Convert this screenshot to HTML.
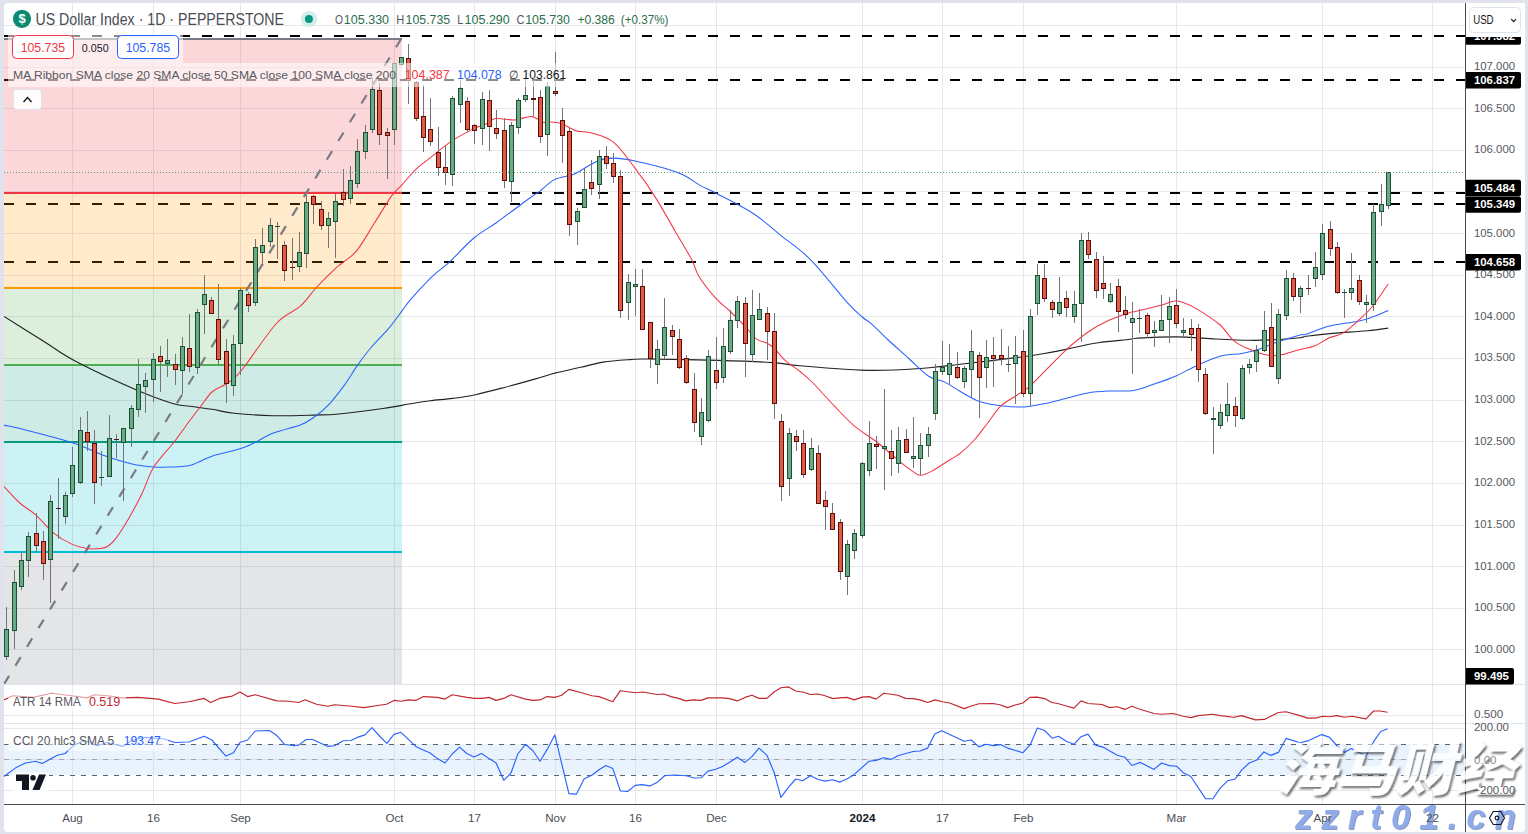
<!DOCTYPE html>
<html><head><meta charset="utf-8"><title>US Dollar Index</title>
<style>html,body{margin:0;padding:0}svg text{font-family:"Liberation Sans",sans-serif}svg text.wm{font-family:"Liberation Sans","Noto Sans CJK SC","WenQuanYi Zen Hei",sans-serif;font-weight:900}body{width:1528px;height:834px;overflow:hidden;background:#e0e3eb;position:relative}</style>
</head><body>
<svg width="1528" height="834" viewBox="0 0 1528 834" style="position:absolute;left:0;top:0">
<defs>
<clipPath id="cm"><rect x="4" y="3" width="1461" height="681"/></clipPath>
<clipPath id="ca"><rect x="4" y="685" width="1461" height="38"/></clipPath>
<clipPath id="cc"><rect x="4" y="724" width="1461" height="80"/></clipPath>
<clipPath id="cr"><rect x="1465" y="37" width="70" height="800"/></clipPath>
</defs>
<rect x="4" y="3" width="1521" height="829" rx="4" fill="#fff"/>
<g shape-rendering="crispEdges" fill="#e7e7e9">
<rect x="72" y="3" width="1" height="801"/>
<rect x="153" y="3" width="1" height="801"/>
<rect x="240" y="3" width="1" height="801"/>
<rect x="394" y="3" width="1" height="801"/>
<rect x="474" y="3" width="1" height="801"/>
<rect x="555" y="3" width="1" height="801"/>
<rect x="635" y="3" width="1" height="801"/>
<rect x="716" y="3" width="1" height="801"/>
<rect x="862" y="3" width="1" height="801"/>
<rect x="942" y="3" width="1" height="801"/>
<rect x="1023" y="3" width="1" height="801"/>
<rect x="1176" y="3" width="1" height="801"/>
<rect x="1322" y="3" width="1" height="801"/>
<rect x="1432" y="3" width="1" height="801"/>
<rect x="4" y="25" width="1461" height="1"/>
<rect x="4" y="67" width="1461" height="1"/>
<rect x="4" y="108" width="1461" height="1"/>
<rect x="4" y="150" width="1461" height="1"/>
<rect x="4" y="191" width="1461" height="1"/>
<rect x="4" y="233" width="1461" height="1"/>
<rect x="4" y="275" width="1461" height="1"/>
<rect x="4" y="316" width="1461" height="1"/>
<rect x="4" y="358" width="1461" height="1"/>
<rect x="4" y="400" width="1461" height="1"/>
<rect x="4" y="441" width="1461" height="1"/>
<rect x="4" y="483" width="1461" height="1"/>
<rect x="4" y="525" width="1461" height="1"/>
<rect x="4" y="566" width="1461" height="1"/>
<rect x="4" y="608" width="1461" height="1"/>
<rect x="4" y="649" width="1461" height="1"/>
<rect x="4" y="715" width="1461" height="1"/>
<rect x="4" y="728" width="1461" height="1"/>
<rect x="4" y="790" width="1461" height="1"/>
</g>
<line x1="3.9" y1="36" x2="1465" y2="36" stroke="#000" stroke-width="2" stroke-dasharray="10 12" shape-rendering="crispEdges"/>
<line x1="3.9" y1="80" x2="1465" y2="80" stroke="#000" stroke-width="2" stroke-dasharray="10 12" shape-rendering="crispEdges"/>
<line x1="3.9" y1="193" x2="1465" y2="193" stroke="#000" stroke-width="2" stroke-dasharray="10 12" shape-rendering="crispEdges"/>
<line x1="3.9" y1="204" x2="1465" y2="204" stroke="#000" stroke-width="2" stroke-dasharray="10 12" shape-rendering="crispEdges"/>
<line x1="3.9" y1="262" x2="1465" y2="262" stroke="#000" stroke-width="2" stroke-dasharray="10 12" shape-rendering="crispEdges"/>
<g shape-rendering="crispEdges">
<rect x="4" y="39" width="398" height="153" fill="rgba(242,54,69,0.2)"/>
<rect x="4" y="192" width="398" height="96" fill="rgba(255,152,0,0.2)"/>
<rect x="4" y="288" width="398" height="77" fill="rgba(76,175,80,0.2)"/>
<rect x="4" y="365" width="398" height="77" fill="rgba(8,153,129,0.2)"/>
<rect x="4" y="442" width="398" height="110" fill="rgba(0,188,212,0.2)"/>
<rect x="4" y="552" width="398" height="132" fill="rgba(120,123,134,0.2)"/>
</g>
<g shape-rendering="crispEdges">
<rect x="4" y="38" width="398" height="2" fill="#787b86"/>
<rect x="4" y="192" width="398" height="2" fill="#f23645"/>
<rect x="4" y="287" width="398" height="2" fill="#ff9800"/>
<rect x="4" y="364" width="398" height="2" fill="#4caf50"/>
<rect x="4" y="441" width="398" height="2" fill="#089981"/>
<rect x="4" y="551" width="398" height="2" fill="#00bcd4"/>
</g>
<line x1="3.9" y1="684.3" x2="401.4" y2="38.5" stroke="#787b86" stroke-width="2.2" stroke-dasharray="10 12" clip-path="url(#cm)"/>
<path d="M4.0 316.4 C10.5 320.5 31.1 333.4 43.2 341.0 C55.3 348.6 61.0 353.7 76.5 361.8 C92.0 369.9 120.0 382.9 136.0 389.8 C152.0 396.8 163.7 400.8 172.7 403.5 C181.7 406.2 183.4 405.3 190.0 406.3 C196.6 407.3 204.7 408.2 212.0 409.3 C219.3 410.4 224.0 412.1 234.1 413.2 C244.2 414.3 259.4 415.4 272.7 415.7 C286.0 416.0 303.0 415.4 314.0 415.1 C325.0 414.8 327.3 415.1 338.8 414.0 C350.3 412.9 371.1 410.2 383.0 408.5 C394.9 406.8 402.6 405.1 410.5 403.8 C418.4 402.5 423.1 401.7 430.1 400.8 C437.1 399.9 445.2 399.4 452.7 398.4 C460.2 397.4 466.5 396.6 475.3 394.7 C484.1 392.8 495.4 389.8 505.4 387.2 C515.4 384.6 527.1 381.3 535.5 378.9 C543.9 376.5 548.3 374.8 555.8 372.9 C563.3 371.0 572.7 369.1 580.6 367.3 C588.5 365.5 595.0 363.4 603.2 362.1 C611.4 360.8 622.9 360.1 630.0 359.6 C637.1 359.1 631.3 358.9 646.0 359.0 C660.7 359.1 697.0 359.8 718.0 360.4 C739.0 361.0 758.3 361.7 772.0 362.6 C785.7 363.5 785.2 364.6 800.0 365.8 C814.8 367.1 844.0 369.4 860.6 370.1 C877.2 370.8 887.6 370.2 899.5 369.8 C911.4 369.4 921.8 368.4 931.9 367.5 C942.0 366.6 945.5 366.0 960.0 364.3 C974.5 362.6 1004.9 359.0 1019.2 357.2 C1033.5 355.4 1036.8 354.8 1045.6 353.3 C1054.4 351.8 1063.2 349.8 1072.0 348.0 C1080.8 346.2 1088.7 344.1 1098.4 342.7 C1108.1 341.2 1123.7 340.1 1130.0 339.3 C1136.3 338.6 1130.0 338.6 1136.4 338.2 C1144.1 337.8 1162.8 336.8 1176.0 336.9 C1189.2 337.0 1203.3 338.4 1215.6 339.0 C1227.9 339.6 1240.2 340.2 1249.9 340.3 C1259.6 340.4 1265.2 340.2 1273.6 339.8 C1281.9 339.4 1294.5 338.3 1300.0 337.7 C1305.5 337.1 1300.9 337.0 1306.4 336.3 C1311.9 335.6 1322.7 334.3 1332.8 333.4 C1342.9 332.5 1357.9 331.7 1367.1 330.8 C1376.3 329.9 1384.7 328.6 1388.2 328.1" fill="none" stroke="#222" stroke-width="1.15" stroke-linejoin="round" clip-path="url(#cm)" />
<path d="M4.0 425.1 C7.7 426.0 15.0 427.2 26.4 430.2 C37.8 433.1 59.3 438.5 72.5 442.8 C85.7 447.1 95.6 452.5 105.5 456.0 C115.4 459.5 124.0 462.2 132.0 464.0 C140.1 465.8 147.2 466.5 153.8 467.0 C160.4 467.5 165.7 467.2 171.5 467.0 C177.3 466.8 183.8 466.7 188.6 465.8 C193.3 464.9 196.1 463.1 200.0 461.5 C203.9 459.9 204.5 458.6 212.0 456.2 C219.5 453.8 235.0 450.9 245.1 447.1 C255.2 443.3 263.5 437.0 272.7 433.3 C281.9 429.6 293.4 427.7 300.3 425.0 C307.2 422.3 309.4 420.5 314.0 417.3 C318.6 414.1 322.7 411.1 327.8 405.7 C332.9 400.3 339.3 392.0 344.4 385.1 C349.4 378.2 353.5 370.8 358.1 364.4 C362.7 358.0 366.8 352.5 371.9 346.5 C377.0 340.5 383.4 334.6 388.5 328.6 C393.6 322.6 398.5 315.4 402.2 310.6 C405.9 305.8 405.4 305.3 410.5 299.6 C415.6 293.9 426.2 282.4 432.6 276.2 C439.0 270.0 442.2 268.8 449.1 262.4 C456.0 256.0 465.9 244.7 473.9 238.0 C481.9 231.3 487.4 229.1 497.0 222.2 C506.6 215.3 524.3 202.0 531.5 196.8 C538.7 191.6 536.2 194.1 540.0 191.2 C543.8 188.3 548.6 182.5 554.4 179.6 C560.1 176.7 567.3 177.0 574.5 173.9 C581.7 170.8 591.1 163.5 597.6 160.9 C604.1 158.3 607.2 158.1 613.4 158.1 C619.6 158.1 626.6 159.2 635.0 160.9 C643.4 162.6 655.6 165.7 663.7 168.1 C671.9 170.5 677.9 172.4 683.9 175.3 C689.9 178.2 694.3 182.2 700.0 185.4 C705.7 188.6 709.0 189.4 718.0 194.2 C727.0 199.0 743.7 207.2 754.0 214.0 C764.3 220.8 770.6 227.2 780.0 234.8 C789.4 242.4 799.0 248.1 810.2 259.4 C821.4 270.6 838.4 292.7 847.1 302.3 C855.8 311.9 858.4 313.5 862.3 317.0 C866.2 320.5 866.3 319.4 870.6 323.2 C874.9 327.0 881.8 334.0 888.2 340.0 C894.7 346.0 902.6 352.9 909.3 359.0 C916.0 365.1 922.7 372.4 928.6 376.3 C934.5 380.2 939.6 379.6 944.8 382.1 C950.0 384.6 954.2 387.9 960.0 391.2 C965.8 394.4 972.4 399.1 979.6 401.6 C986.8 404.1 995.8 405.2 1003.3 406.1 C1010.8 407.0 1017.5 407.3 1024.5 406.9 C1031.5 406.4 1038.6 404.8 1045.6 403.4 C1052.6 401.9 1059.7 399.9 1066.7 398.2 C1073.7 396.4 1080.8 394.1 1087.8 392.9 C1094.8 391.7 1101.2 391.4 1108.9 391.0 C1116.6 390.6 1126.1 391.6 1133.8 390.4 C1141.5 389.2 1147.9 386.2 1154.9 383.8 C1161.9 381.4 1169.0 379.0 1176.0 375.9 C1183.0 372.8 1189.6 368.7 1197.1 365.4 C1204.6 362.1 1213.3 358.1 1220.8 356.1 C1228.3 354.1 1235.8 354.6 1242.0 353.5 C1248.2 352.4 1251.6 351.5 1257.8 349.5 C1264.0 347.5 1271.9 344.0 1278.9 341.6 C1285.9 339.2 1295.4 336.2 1300.0 335.0 C1304.6 333.8 1301.6 335.6 1306.4 334.2 C1311.2 332.8 1320.0 328.5 1328.8 326.3 C1337.6 324.1 1351.9 322.6 1359.2 321.0 C1366.5 319.4 1367.6 318.8 1372.4 317.0 C1377.2 315.2 1385.6 311.5 1388.2 310.4" fill="none" stroke="#2962ff" stroke-width="1.05" stroke-linejoin="round" clip-path="url(#cm)" />
<path d="M4.0 486.4 C6.6 489.2 14.5 498.2 19.8 503.0 C25.1 507.8 29.9 509.8 35.6 514.9 C41.3 519.9 48.2 528.5 54.1 533.3 C60.0 538.1 65.7 541.3 71.2 543.9 C76.7 546.5 82.2 547.8 87.1 548.6 C91.9 549.4 96.8 549.0 100.3 548.6 C103.8 548.2 105.6 547.8 108.2 546.0 C110.8 544.2 112.6 542.9 116.1 538.1 C119.6 533.4 124.9 525.1 129.3 517.5 C133.7 509.9 138.4 500.8 142.5 492.4 C146.6 484.0 148.5 475.4 153.8 467.0 C159.1 458.6 168.1 449.8 174.1 442.0 C180.1 434.2 185.7 426.1 190.0 420.3 C194.3 414.5 196.3 411.9 200.0 407.2 C203.7 402.5 207.7 395.8 212.0 392.0 C216.3 388.2 221.9 386.7 225.8 384.2 C229.7 381.7 232.3 379.9 235.5 376.8 C238.7 373.7 238.2 374.8 245.1 365.8 C252.0 356.8 267.6 332.9 276.8 323.0 C286.0 313.1 293.6 312.2 300.3 306.2 C307.0 300.2 310.8 293.4 316.8 287.0 C322.8 280.6 331.7 272.0 336.1 267.9 C340.5 263.8 339.5 265.3 343.0 262.4 C346.5 259.5 351.8 256.9 357.0 250.4 C362.2 243.9 368.5 232.4 374.3 223.3 C380.1 214.2 387.0 202.3 391.6 195.9 C396.2 189.5 397.9 189.3 402.0 184.8 C406.1 180.3 411.6 173.5 416.4 168.9 C421.2 164.3 424.9 162.0 430.7 157.4 C436.4 152.8 443.7 146.4 450.9 141.6 C458.1 136.8 468.1 131.5 473.9 128.6 C479.6 125.7 481.8 126.0 485.4 124.3 C489.0 122.6 490.7 119.3 495.5 118.6 C500.3 117.9 508.2 120.3 514.2 120.0 C520.2 119.7 526.7 116.1 531.5 116.5 C536.3 116.9 539.7 121.4 543.0 122.3 C546.3 123.2 548.4 121.9 551.5 122.1 C554.6 122.3 557.5 122.1 561.6 123.5 C565.7 124.9 571.0 129.1 576.0 130.7 C581.0 132.3 585.6 131.1 591.8 133.0 C598.0 134.9 606.2 136.3 613.4 142.2 C620.6 148.0 628.0 159.0 635.0 168.1 C642.0 177.2 648.4 186.3 655.1 196.9 C661.8 207.5 669.2 220.9 675.3 231.4 C681.4 241.9 687.9 252.4 691.9 260.0 C695.9 267.6 695.1 270.4 699.1 276.8 C703.1 283.2 710.7 292.6 715.9 298.4 C721.1 304.2 725.5 306.9 730.3 311.5 C735.1 316.1 740.2 321.3 744.6 325.9 C749.0 330.5 753.0 336.3 756.6 339.1 C760.2 341.9 763.4 341.3 766.2 342.7 C769.0 344.1 770.2 344.5 773.4 347.5 C776.6 350.5 781.0 356.7 785.4 360.7 C789.8 364.7 795.6 367.9 800.0 371.5 C804.4 375.1 806.2 376.2 812.0 382.0 C817.8 387.8 827.7 399.1 834.7 406.4 C841.7 413.7 847.2 419.9 854.2 425.8 C861.2 431.7 869.2 436.1 876.8 442.0 C884.3 447.9 893.6 456.5 899.5 461.4 C905.4 466.2 908.9 468.8 912.4 471.1 C915.9 473.4 917.2 475.3 920.5 475.3 C923.8 475.3 927.9 473.2 931.9 471.1 C935.9 469.1 940.1 466.0 944.8 463.0 C949.5 460.0 955.1 457.1 960.0 453.3 C964.9 449.5 969.7 445.0 974.3 440.0 C978.9 435.0 983.1 428.8 987.5 423.2 C991.9 417.6 995.9 410.7 1000.7 406.1 C1005.5 401.5 1011.7 398.8 1016.5 395.5 C1021.3 392.2 1024.9 390.5 1029.7 386.3 C1034.5 382.1 1039.4 376.6 1045.6 370.4 C1051.8 364.2 1059.7 355.7 1066.7 349.3 C1073.7 342.9 1080.8 337.0 1087.8 332.2 C1094.8 327.4 1101.9 323.6 1108.9 320.3 C1115.9 317.0 1125.4 313.9 1130.0 312.4 C1134.6 310.9 1130.9 312.6 1136.4 311.3 C1141.9 310.0 1156.7 306.4 1162.8 304.7 C1168.9 303.0 1169.9 301.6 1173.3 301.2 C1176.7 300.8 1179.0 301.2 1183.0 302.5 C1187.0 303.8 1191.0 305.4 1197.1 309.1 C1203.2 312.8 1213.3 319.2 1219.5 324.5 C1225.7 329.8 1228.9 336.6 1234.0 340.8 C1239.1 345.0 1244.2 347.1 1249.9 349.5 C1255.6 351.9 1263.1 354.4 1268.4 355.3 C1273.7 356.2 1276.2 355.8 1281.5 354.8 C1286.8 353.8 1294.5 350.9 1300.0 349.5 C1305.5 348.1 1309.5 348.0 1314.3 346.1 C1319.1 344.2 1324.0 340.3 1328.8 338.1 C1333.6 335.9 1338.2 336.0 1343.3 332.9 C1348.4 329.8 1354.3 324.1 1359.2 319.7 C1364.1 315.3 1367.6 312.4 1372.4 306.5 C1377.2 300.6 1385.6 287.8 1388.2 284.0" fill="none" stroke="#f23645" stroke-width="1.05" stroke-linejoin="round" clip-path="url(#cm)" />
<g shape-rendering="crispEdges" clip-path="url(#cm)">
<rect x="6" y="607" width="1" height="53" fill="#737375"/>
<rect x="4" y="629" width="5" height="28" fill="#1d4f33"/>
<rect x="5" y="630" width="3" height="26" fill="#6aaa87"/>
<rect x="14" y="570" width="1" height="79" fill="#737375"/>
<rect x="12" y="582" width="5" height="49" fill="#1d4f33"/>
<rect x="13" y="583" width="3" height="47" fill="#6aaa87"/>
<rect x="21" y="552" width="1" height="38" fill="#737375"/>
<rect x="19" y="560" width="5" height="27" fill="#1d4f33"/>
<rect x="20" y="561" width="3" height="25" fill="#6aaa87"/>
<rect x="28" y="532" width="1" height="45" fill="#737375"/>
<rect x="26" y="536" width="5" height="25" fill="#1d4f33"/>
<rect x="27" y="537" width="3" height="23" fill="#6aaa87"/>
<rect x="36" y="513" width="1" height="39" fill="#737375"/>
<rect x="34" y="533" width="5" height="13" fill="#5a0e05"/>
<rect x="35" y="534" width="3" height="11" fill="#e05a48"/>
<rect x="43" y="531" width="1" height="49" fill="#737375"/>
<rect x="41" y="541" width="5" height="23" fill="#5a0e05"/>
<rect x="42" y="542" width="3" height="21" fill="#e05a48"/>
<rect x="50" y="495" width="1" height="108" fill="#737375"/>
<rect x="48" y="501" width="5" height="59" fill="#1d4f33"/>
<rect x="49" y="502" width="3" height="57" fill="#6aaa87"/>
<rect x="58" y="478" width="1" height="61" fill="#737375"/>
<rect x="56" y="508" width="5" height="1" fill="#5a0e05"/>
<rect x="65" y="492" width="1" height="32" fill="#737375"/>
<rect x="63" y="495" width="5" height="22" fill="#1d4f33"/>
<rect x="64" y="496" width="3" height="20" fill="#6aaa87"/>
<rect x="72" y="447" width="1" height="50" fill="#737375"/>
<rect x="70" y="465" width="5" height="29" fill="#1d4f33"/>
<rect x="71" y="466" width="3" height="27" fill="#6aaa87"/>
<rect x="80" y="417" width="1" height="67" fill="#737375"/>
<rect x="78" y="430" width="5" height="53" fill="#1d4f33"/>
<rect x="79" y="431" width="3" height="51" fill="#6aaa87"/>
<rect x="87" y="411" width="1" height="40" fill="#737375"/>
<rect x="85" y="432" width="5" height="10" fill="#5a0e05"/>
<rect x="86" y="433" width="3" height="8" fill="#e05a48"/>
<rect x="94" y="430" width="1" height="74" fill="#737375"/>
<rect x="92" y="443" width="5" height="40" fill="#5a0e05"/>
<rect x="93" y="444" width="3" height="38" fill="#e05a48"/>
<rect x="101" y="451" width="1" height="35" fill="#737375"/>
<rect x="99" y="477" width="5" height="1" fill="#1d4f33"/>
<rect x="109" y="415" width="1" height="62" fill="#737375"/>
<rect x="107" y="438" width="5" height="39" fill="#1d4f33"/>
<rect x="108" y="439" width="3" height="37" fill="#6aaa87"/>
<rect x="116" y="434" width="1" height="24" fill="#737375"/>
<rect x="114" y="439" width="5" height="1" fill="#5a0e05"/>
<rect x="123" y="428" width="1" height="73" fill="#737375"/>
<rect x="121" y="428" width="5" height="15" fill="#1d4f33"/>
<rect x="122" y="429" width="3" height="13" fill="#6aaa87"/>
<rect x="131" y="405" width="1" height="42" fill="#737375"/>
<rect x="129" y="408" width="5" height="21" fill="#1d4f33"/>
<rect x="130" y="409" width="3" height="19" fill="#6aaa87"/>
<rect x="138" y="359" width="1" height="58" fill="#737375"/>
<rect x="136" y="384" width="5" height="26" fill="#1d4f33"/>
<rect x="137" y="385" width="3" height="24" fill="#6aaa87"/>
<rect x="145" y="373" width="1" height="40" fill="#737375"/>
<rect x="143" y="380" width="5" height="7" fill="#1d4f33"/>
<rect x="144" y="381" width="3" height="5" fill="#6aaa87"/>
<rect x="153" y="353" width="1" height="49" fill="#737375"/>
<rect x="151" y="359" width="5" height="21" fill="#1d4f33"/>
<rect x="152" y="360" width="3" height="19" fill="#6aaa87"/>
<rect x="160" y="346" width="1" height="46" fill="#737375"/>
<rect x="158" y="356" width="5" height="6" fill="#5a0e05"/>
<rect x="159" y="357" width="3" height="4" fill="#e05a48"/>
<rect x="167" y="339" width="1" height="38" fill="#737375"/>
<rect x="165" y="360" width="5" height="4" fill="#1d4f33"/>
<rect x="166" y="361" width="3" height="2" fill="#6aaa87"/>
<rect x="175" y="354" width="1" height="31" fill="#737375"/>
<rect x="173" y="364" width="5" height="6" fill="#5a0e05"/>
<rect x="174" y="365" width="3" height="4" fill="#e05a48"/>
<rect x="182" y="337" width="1" height="57" fill="#737375"/>
<rect x="180" y="346" width="5" height="25" fill="#1d4f33"/>
<rect x="181" y="347" width="3" height="23" fill="#6aaa87"/>
<rect x="189" y="314" width="1" height="58" fill="#737375"/>
<rect x="187" y="348" width="5" height="19" fill="#5a0e05"/>
<rect x="188" y="349" width="3" height="17" fill="#e05a48"/>
<rect x="197" y="309" width="1" height="65" fill="#737375"/>
<rect x="195" y="312" width="5" height="56" fill="#1d4f33"/>
<rect x="196" y="313" width="3" height="54" fill="#6aaa87"/>
<rect x="204" y="275" width="1" height="59" fill="#737375"/>
<rect x="202" y="294" width="5" height="11" fill="#1d4f33"/>
<rect x="203" y="295" width="3" height="9" fill="#6aaa87"/>
<rect x="211" y="297" width="1" height="17" fill="#737375"/>
<rect x="209" y="300" width="5" height="14" fill="#5a0e05"/>
<rect x="210" y="301" width="3" height="12" fill="#e05a48"/>
<rect x="218" y="284" width="1" height="81" fill="#737375"/>
<rect x="216" y="319" width="5" height="41" fill="#5a0e05"/>
<rect x="217" y="320" width="3" height="39" fill="#e05a48"/>
<rect x="226" y="339" width="1" height="64" fill="#737375"/>
<rect x="224" y="351" width="5" height="33" fill="#5a0e05"/>
<rect x="225" y="352" width="3" height="31" fill="#e05a48"/>
<rect x="233" y="335" width="1" height="61" fill="#737375"/>
<rect x="231" y="344" width="5" height="42" fill="#1d4f33"/>
<rect x="232" y="345" width="3" height="40" fill="#6aaa87"/>
<rect x="240" y="288" width="1" height="87" fill="#737375"/>
<rect x="238" y="290" width="5" height="54" fill="#1d4f33"/>
<rect x="239" y="291" width="3" height="52" fill="#6aaa87"/>
<rect x="248" y="292" width="1" height="20" fill="#737375"/>
<rect x="246" y="294" width="5" height="12" fill="#5a0e05"/>
<rect x="247" y="295" width="3" height="10" fill="#e05a48"/>
<rect x="255" y="239" width="1" height="67" fill="#737375"/>
<rect x="253" y="247" width="5" height="56" fill="#1d4f33"/>
<rect x="254" y="248" width="3" height="54" fill="#6aaa87"/>
<rect x="262" y="228" width="1" height="35" fill="#737375"/>
<rect x="260" y="245" width="5" height="8" fill="#1d4f33"/>
<rect x="261" y="246" width="3" height="6" fill="#6aaa87"/>
<rect x="270" y="218" width="1" height="29" fill="#737375"/>
<rect x="268" y="225" width="5" height="17" fill="#1d4f33"/>
<rect x="269" y="226" width="3" height="15" fill="#6aaa87"/>
<rect x="277" y="222" width="1" height="37" fill="#737375"/>
<rect x="275" y="226" width="5" height="1" fill="#1d4f33"/>
<rect x="284" y="241" width="1" height="40" fill="#737375"/>
<rect x="282" y="245" width="5" height="26" fill="#5a0e05"/>
<rect x="283" y="246" width="3" height="24" fill="#e05a48"/>
<rect x="292" y="238" width="1" height="42" fill="#737375"/>
<rect x="290" y="267" width="5" height="1" fill="#5a0e05"/>
<rect x="299" y="232" width="1" height="40" fill="#737375"/>
<rect x="297" y="252" width="5" height="15" fill="#1d4f33"/>
<rect x="298" y="253" width="3" height="13" fill="#6aaa87"/>
<rect x="306" y="195" width="1" height="73" fill="#737375"/>
<rect x="304" y="202" width="5" height="52" fill="#1d4f33"/>
<rect x="305" y="203" width="3" height="50" fill="#6aaa87"/>
<rect x="313" y="195" width="1" height="29" fill="#737375"/>
<rect x="311" y="196" width="5" height="9" fill="#5a0e05"/>
<rect x="312" y="197" width="3" height="7" fill="#e05a48"/>
<rect x="321" y="201" width="1" height="29" fill="#737375"/>
<rect x="319" y="209" width="5" height="17" fill="#5a0e05"/>
<rect x="320" y="210" width="3" height="15" fill="#e05a48"/>
<rect x="328" y="212" width="1" height="36" fill="#737375"/>
<rect x="326" y="218" width="5" height="8" fill="#1d4f33"/>
<rect x="327" y="219" width="3" height="6" fill="#6aaa87"/>
<rect x="335" y="194" width="1" height="64" fill="#737375"/>
<rect x="333" y="201" width="5" height="21" fill="#1d4f33"/>
<rect x="334" y="202" width="3" height="19" fill="#6aaa87"/>
<rect x="343" y="169" width="1" height="37" fill="#737375"/>
<rect x="341" y="192" width="5" height="8" fill="#5a0e05"/>
<rect x="342" y="193" width="3" height="6" fill="#e05a48"/>
<rect x="350" y="166" width="1" height="38" fill="#737375"/>
<rect x="348" y="180" width="5" height="19" fill="#1d4f33"/>
<rect x="349" y="181" width="3" height="17" fill="#6aaa87"/>
<rect x="357" y="139" width="1" height="49" fill="#737375"/>
<rect x="355" y="151" width="5" height="33" fill="#1d4f33"/>
<rect x="356" y="152" width="3" height="31" fill="#6aaa87"/>
<rect x="365" y="125" width="1" height="34" fill="#737375"/>
<rect x="363" y="132" width="5" height="20" fill="#1d4f33"/>
<rect x="364" y="133" width="3" height="18" fill="#6aaa87"/>
<rect x="372" y="78" width="1" height="55" fill="#737375"/>
<rect x="370" y="89" width="5" height="41" fill="#1d4f33"/>
<rect x="371" y="90" width="3" height="39" fill="#6aaa87"/>
<rect x="379" y="83" width="1" height="62" fill="#737375"/>
<rect x="377" y="90" width="5" height="45" fill="#5a0e05"/>
<rect x="378" y="91" width="3" height="43" fill="#e05a48"/>
<rect x="387" y="128" width="1" height="51" fill="#737375"/>
<rect x="385" y="132" width="5" height="4" fill="#5a0e05"/>
<rect x="386" y="133" width="3" height="2" fill="#e05a48"/>
<rect x="394" y="63" width="1" height="82" fill="#737375"/>
<rect x="392" y="63" width="5" height="67" fill="#1d4f33"/>
<rect x="393" y="64" width="3" height="65" fill="#6aaa87"/>
<rect x="401" y="57" width="1" height="9" fill="#737375"/>
<rect x="399" y="57" width="5" height="8" fill="#1d4f33"/>
<rect x="400" y="58" width="3" height="6" fill="#6aaa87"/>
<rect x="408" y="44" width="1" height="60" fill="#737375"/>
<rect x="406" y="58" width="5" height="23" fill="#5a0e05"/>
<rect x="407" y="59" width="3" height="21" fill="#e05a48"/>
<rect x="416" y="81" width="1" height="40" fill="#737375"/>
<rect x="414" y="82" width="5" height="37" fill="#5a0e05"/>
<rect x="415" y="83" width="3" height="35" fill="#e05a48"/>
<rect x="423" y="85" width="1" height="67" fill="#737375"/>
<rect x="421" y="116" width="5" height="22" fill="#5a0e05"/>
<rect x="422" y="117" width="3" height="20" fill="#e05a48"/>
<rect x="430" y="98" width="1" height="48" fill="#737375"/>
<rect x="428" y="129" width="5" height="13" fill="#5a0e05"/>
<rect x="429" y="130" width="3" height="11" fill="#e05a48"/>
<rect x="438" y="127" width="1" height="49" fill="#737375"/>
<rect x="436" y="152" width="5" height="16" fill="#5a0e05"/>
<rect x="437" y="153" width="3" height="14" fill="#e05a48"/>
<rect x="445" y="146" width="1" height="39" fill="#737375"/>
<rect x="443" y="167" width="5" height="6" fill="#5a0e05"/>
<rect x="444" y="168" width="3" height="4" fill="#e05a48"/>
<rect x="452" y="96" width="1" height="90" fill="#737375"/>
<rect x="450" y="98" width="5" height="77" fill="#1d4f33"/>
<rect x="451" y="99" width="3" height="75" fill="#6aaa87"/>
<rect x="460" y="80" width="1" height="43" fill="#737375"/>
<rect x="458" y="88" width="5" height="17" fill="#1d4f33"/>
<rect x="459" y="89" width="3" height="15" fill="#6aaa87"/>
<rect x="467" y="97" width="1" height="35" fill="#737375"/>
<rect x="465" y="101" width="5" height="29" fill="#5a0e05"/>
<rect x="466" y="102" width="3" height="27" fill="#e05a48"/>
<rect x="474" y="124" width="1" height="20" fill="#737375"/>
<rect x="472" y="125" width="5" height="6" fill="#5a0e05"/>
<rect x="473" y="126" width="3" height="4" fill="#e05a48"/>
<rect x="482" y="92" width="1" height="53" fill="#737375"/>
<rect x="480" y="99" width="5" height="30" fill="#1d4f33"/>
<rect x="481" y="100" width="3" height="28" fill="#6aaa87"/>
<rect x="489" y="90" width="1" height="61" fill="#737375"/>
<rect x="487" y="100" width="5" height="27" fill="#5a0e05"/>
<rect x="488" y="101" width="3" height="25" fill="#e05a48"/>
<rect x="496" y="110" width="1" height="29" fill="#737375"/>
<rect x="494" y="128" width="5" height="6" fill="#5a0e05"/>
<rect x="495" y="129" width="3" height="4" fill="#e05a48"/>
<rect x="504" y="118" width="1" height="70" fill="#737375"/>
<rect x="502" y="130" width="5" height="51" fill="#5a0e05"/>
<rect x="503" y="131" width="3" height="49" fill="#e05a48"/>
<rect x="511" y="122" width="1" height="80" fill="#737375"/>
<rect x="509" y="125" width="5" height="57" fill="#1d4f33"/>
<rect x="510" y="126" width="3" height="55" fill="#6aaa87"/>
<rect x="518" y="98" width="1" height="36" fill="#737375"/>
<rect x="516" y="100" width="5" height="28" fill="#1d4f33"/>
<rect x="517" y="101" width="3" height="26" fill="#6aaa87"/>
<rect x="525" y="77" width="1" height="25" fill="#737375"/>
<rect x="523" y="95" width="5" height="5" fill="#1d4f33"/>
<rect x="524" y="96" width="3" height="3" fill="#6aaa87"/>
<rect x="533" y="80" width="1" height="36" fill="#737375"/>
<rect x="531" y="98" width="5" height="2" fill="#5a0e05"/>
<rect x="540" y="90" width="1" height="53" fill="#737375"/>
<rect x="538" y="97" width="5" height="40" fill="#5a0e05"/>
<rect x="539" y="98" width="3" height="38" fill="#e05a48"/>
<rect x="547" y="82" width="1" height="74" fill="#737375"/>
<rect x="545" y="86" width="5" height="49" fill="#1d4f33"/>
<rect x="546" y="87" width="3" height="47" fill="#6aaa87"/>
<rect x="555" y="52" width="1" height="44" fill="#737375"/>
<rect x="553" y="91" width="5" height="3" fill="#5a0e05"/>
<rect x="554" y="92" width="3" height="1" fill="#e05a48"/>
<rect x="562" y="108" width="1" height="55" fill="#737375"/>
<rect x="560" y="120" width="5" height="16" fill="#5a0e05"/>
<rect x="561" y="121" width="3" height="14" fill="#e05a48"/>
<rect x="569" y="128" width="1" height="108" fill="#737375"/>
<rect x="567" y="131" width="5" height="94" fill="#5a0e05"/>
<rect x="568" y="132" width="3" height="92" fill="#e05a48"/>
<rect x="577" y="208" width="1" height="37" fill="#737375"/>
<rect x="575" y="211" width="5" height="11" fill="#1d4f33"/>
<rect x="576" y="212" width="3" height="9" fill="#6aaa87"/>
<rect x="584" y="168" width="1" height="40" fill="#737375"/>
<rect x="582" y="189" width="5" height="19" fill="#1d4f33"/>
<rect x="583" y="190" width="3" height="17" fill="#6aaa87"/>
<rect x="591" y="160" width="1" height="35" fill="#737375"/>
<rect x="589" y="182" width="5" height="7" fill="#5a0e05"/>
<rect x="590" y="183" width="3" height="5" fill="#e05a48"/>
<rect x="599" y="150" width="1" height="49" fill="#737375"/>
<rect x="597" y="156" width="5" height="29" fill="#1d4f33"/>
<rect x="598" y="157" width="3" height="27" fill="#6aaa87"/>
<rect x="606" y="146" width="1" height="23" fill="#737375"/>
<rect x="604" y="156" width="5" height="8" fill="#5a0e05"/>
<rect x="605" y="157" width="3" height="6" fill="#e05a48"/>
<rect x="613" y="153" width="1" height="30" fill="#737375"/>
<rect x="611" y="163" width="5" height="14" fill="#5a0e05"/>
<rect x="612" y="164" width="3" height="12" fill="#e05a48"/>
<rect x="620" y="170" width="1" height="148" fill="#737375"/>
<rect x="618" y="176" width="5" height="135" fill="#5a0e05"/>
<rect x="619" y="177" width="3" height="133" fill="#e05a48"/>
<rect x="628" y="274" width="1" height="46" fill="#737375"/>
<rect x="626" y="282" width="5" height="21" fill="#1d4f33"/>
<rect x="627" y="283" width="3" height="19" fill="#6aaa87"/>
<rect x="635" y="269" width="1" height="47" fill="#737375"/>
<rect x="633" y="284" width="5" height="3" fill="#1d4f33"/>
<rect x="634" y="285" width="3" height="1" fill="#6aaa87"/>
<rect x="642" y="269" width="1" height="61" fill="#737375"/>
<rect x="640" y="286" width="5" height="44" fill="#5a0e05"/>
<rect x="641" y="287" width="3" height="42" fill="#e05a48"/>
<rect x="650" y="322" width="1" height="46" fill="#737375"/>
<rect x="648" y="322" width="5" height="37" fill="#5a0e05"/>
<rect x="649" y="323" width="3" height="35" fill="#e05a48"/>
<rect x="657" y="340" width="1" height="44" fill="#737375"/>
<rect x="655" y="349" width="5" height="16" fill="#1d4f33"/>
<rect x="656" y="350" width="3" height="14" fill="#6aaa87"/>
<rect x="664" y="298" width="1" height="61" fill="#737375"/>
<rect x="662" y="327" width="5" height="29" fill="#1d4f33"/>
<rect x="663" y="328" width="3" height="27" fill="#6aaa87"/>
<rect x="672" y="325" width="1" height="30" fill="#737375"/>
<rect x="670" y="330" width="5" height="7" fill="#5a0e05"/>
<rect x="671" y="331" width="3" height="5" fill="#e05a48"/>
<rect x="679" y="329" width="1" height="40" fill="#737375"/>
<rect x="677" y="339" width="5" height="29" fill="#5a0e05"/>
<rect x="678" y="340" width="3" height="27" fill="#e05a48"/>
<rect x="686" y="355" width="1" height="29" fill="#737375"/>
<rect x="684" y="358" width="5" height="25" fill="#5a0e05"/>
<rect x="685" y="359" width="3" height="23" fill="#e05a48"/>
<rect x="694" y="373" width="1" height="59" fill="#737375"/>
<rect x="692" y="389" width="5" height="34" fill="#5a0e05"/>
<rect x="693" y="390" width="3" height="32" fill="#e05a48"/>
<rect x="701" y="398" width="1" height="47" fill="#737375"/>
<rect x="699" y="412" width="5" height="25" fill="#1d4f33"/>
<rect x="700" y="413" width="3" height="23" fill="#6aaa87"/>
<rect x="708" y="350" width="1" height="72" fill="#737375"/>
<rect x="706" y="356" width="5" height="65" fill="#1d4f33"/>
<rect x="707" y="357" width="3" height="63" fill="#6aaa87"/>
<rect x="716" y="337" width="1" height="52" fill="#737375"/>
<rect x="714" y="370" width="5" height="13" fill="#5a0e05"/>
<rect x="715" y="371" width="3" height="11" fill="#e05a48"/>
<rect x="723" y="328" width="1" height="55" fill="#737375"/>
<rect x="721" y="346" width="5" height="32" fill="#1d4f33"/>
<rect x="722" y="347" width="3" height="30" fill="#6aaa87"/>
<rect x="730" y="310" width="1" height="44" fill="#737375"/>
<rect x="728" y="320" width="5" height="32" fill="#1d4f33"/>
<rect x="729" y="321" width="3" height="30" fill="#6aaa87"/>
<rect x="737" y="296" width="1" height="32" fill="#737375"/>
<rect x="735" y="301" width="5" height="20" fill="#1d4f33"/>
<rect x="736" y="302" width="3" height="18" fill="#6aaa87"/>
<rect x="745" y="297" width="1" height="80" fill="#737375"/>
<rect x="743" y="303" width="5" height="41" fill="#5a0e05"/>
<rect x="744" y="304" width="3" height="39" fill="#e05a48"/>
<rect x="752" y="290" width="1" height="72" fill="#737375"/>
<rect x="750" y="315" width="5" height="40" fill="#1d4f33"/>
<rect x="751" y="316" width="3" height="38" fill="#6aaa87"/>
<rect x="759" y="293" width="1" height="27" fill="#737375"/>
<rect x="757" y="309" width="5" height="11" fill="#1d4f33"/>
<rect x="758" y="310" width="3" height="9" fill="#6aaa87"/>
<rect x="767" y="307" width="1" height="53" fill="#737375"/>
<rect x="765" y="313" width="5" height="19" fill="#5a0e05"/>
<rect x="766" y="314" width="3" height="17" fill="#e05a48"/>
<rect x="774" y="313" width="1" height="106" fill="#737375"/>
<rect x="772" y="331" width="5" height="73" fill="#5a0e05"/>
<rect x="773" y="332" width="3" height="71" fill="#e05a48"/>
<rect x="781" y="414" width="1" height="87" fill="#737375"/>
<rect x="779" y="421" width="5" height="66" fill="#5a0e05"/>
<rect x="780" y="422" width="3" height="64" fill="#e05a48"/>
<rect x="789" y="428" width="1" height="68" fill="#737375"/>
<rect x="787" y="433" width="5" height="46" fill="#1d4f33"/>
<rect x="788" y="434" width="3" height="44" fill="#6aaa87"/>
<rect x="796" y="430" width="1" height="21" fill="#737375"/>
<rect x="794" y="436" width="5" height="6" fill="#5a0e05"/>
<rect x="795" y="437" width="3" height="4" fill="#e05a48"/>
<rect x="803" y="430" width="1" height="48" fill="#737375"/>
<rect x="801" y="443" width="5" height="32" fill="#5a0e05"/>
<rect x="802" y="444" width="3" height="30" fill="#e05a48"/>
<rect x="811" y="438" width="1" height="33" fill="#737375"/>
<rect x="809" y="448" width="5" height="22" fill="#1d4f33"/>
<rect x="810" y="449" width="3" height="20" fill="#6aaa87"/>
<rect x="818" y="445" width="1" height="59" fill="#737375"/>
<rect x="816" y="453" width="5" height="51" fill="#5a0e05"/>
<rect x="817" y="454" width="3" height="49" fill="#e05a48"/>
<rect x="825" y="491" width="1" height="39" fill="#737375"/>
<rect x="823" y="500" width="5" height="7" fill="#5a0e05"/>
<rect x="824" y="501" width="3" height="5" fill="#e05a48"/>
<rect x="832" y="503" width="1" height="27" fill="#737375"/>
<rect x="830" y="513" width="5" height="17" fill="#5a0e05"/>
<rect x="831" y="514" width="3" height="15" fill="#e05a48"/>
<rect x="840" y="519" width="1" height="61" fill="#737375"/>
<rect x="838" y="522" width="5" height="50" fill="#5a0e05"/>
<rect x="839" y="523" width="3" height="48" fill="#e05a48"/>
<rect x="847" y="540" width="1" height="55" fill="#737375"/>
<rect x="845" y="544" width="5" height="33" fill="#1d4f33"/>
<rect x="846" y="545" width="3" height="31" fill="#6aaa87"/>
<rect x="854" y="529" width="1" height="30" fill="#737375"/>
<rect x="852" y="533" width="5" height="18" fill="#1d4f33"/>
<rect x="853" y="534" width="3" height="16" fill="#6aaa87"/>
<rect x="862" y="462" width="1" height="76" fill="#737375"/>
<rect x="860" y="463" width="5" height="73" fill="#1d4f33"/>
<rect x="861" y="464" width="3" height="71" fill="#6aaa87"/>
<rect x="869" y="421" width="1" height="55" fill="#737375"/>
<rect x="867" y="443" width="5" height="28" fill="#1d4f33"/>
<rect x="868" y="444" width="3" height="26" fill="#6aaa87"/>
<rect x="876" y="436" width="1" height="33" fill="#737375"/>
<rect x="874" y="444" width="5" height="3" fill="#5a0e05"/>
<rect x="875" y="445" width="3" height="1" fill="#e05a48"/>
<rect x="884" y="389" width="1" height="101" fill="#737375"/>
<rect x="882" y="446" width="5" height="3" fill="#1d4f33"/>
<rect x="883" y="447" width="3" height="1" fill="#6aaa87"/>
<rect x="891" y="430" width="1" height="46" fill="#737375"/>
<rect x="889" y="451" width="5" height="8" fill="#5a0e05"/>
<rect x="890" y="452" width="3" height="6" fill="#e05a48"/>
<rect x="898" y="427" width="1" height="46" fill="#737375"/>
<rect x="896" y="440" width="5" height="24" fill="#1d4f33"/>
<rect x="897" y="441" width="3" height="22" fill="#6aaa87"/>
<rect x="906" y="429" width="1" height="24" fill="#737375"/>
<rect x="904" y="439" width="5" height="14" fill="#5a0e05"/>
<rect x="905" y="440" width="3" height="12" fill="#e05a48"/>
<rect x="913" y="417" width="1" height="51" fill="#737375"/>
<rect x="911" y="456" width="5" height="3" fill="#1d4f33"/>
<rect x="912" y="457" width="3" height="1" fill="#6aaa87"/>
<rect x="920" y="433" width="1" height="42" fill="#737375"/>
<rect x="918" y="445" width="5" height="14" fill="#1d4f33"/>
<rect x="919" y="446" width="3" height="12" fill="#6aaa87"/>
<rect x="928" y="427" width="1" height="30" fill="#737375"/>
<rect x="926" y="434" width="5" height="12" fill="#1d4f33"/>
<rect x="927" y="435" width="3" height="10" fill="#6aaa87"/>
<rect x="935" y="364" width="1" height="56" fill="#737375"/>
<rect x="933" y="371" width="5" height="43" fill="#1d4f33"/>
<rect x="934" y="372" width="3" height="41" fill="#6aaa87"/>
<rect x="942" y="341" width="1" height="34" fill="#737375"/>
<rect x="940" y="367" width="5" height="5" fill="#1d4f33"/>
<rect x="941" y="368" width="3" height="3" fill="#6aaa87"/>
<rect x="949" y="344" width="1" height="41" fill="#737375"/>
<rect x="947" y="363" width="5" height="12" fill="#1d4f33"/>
<rect x="948" y="364" width="3" height="10" fill="#6aaa87"/>
<rect x="957" y="352" width="1" height="27" fill="#737375"/>
<rect x="955" y="367" width="5" height="11" fill="#5a0e05"/>
<rect x="956" y="368" width="3" height="9" fill="#e05a48"/>
<rect x="964" y="366" width="1" height="22" fill="#737375"/>
<rect x="962" y="368" width="5" height="14" fill="#1d4f33"/>
<rect x="963" y="369" width="3" height="12" fill="#6aaa87"/>
<rect x="971" y="330" width="1" height="68" fill="#737375"/>
<rect x="969" y="351" width="5" height="19" fill="#1d4f33"/>
<rect x="970" y="352" width="3" height="17" fill="#6aaa87"/>
<rect x="979" y="352" width="1" height="66" fill="#737375"/>
<rect x="977" y="355" width="5" height="23" fill="#5a0e05"/>
<rect x="978" y="356" width="3" height="21" fill="#e05a48"/>
<rect x="986" y="340" width="1" height="48" fill="#737375"/>
<rect x="984" y="357" width="5" height="11" fill="#1d4f33"/>
<rect x="985" y="358" width="3" height="9" fill="#6aaa87"/>
<rect x="993" y="337" width="1" height="50" fill="#737375"/>
<rect x="991" y="355" width="5" height="4" fill="#5a0e05"/>
<rect x="992" y="356" width="3" height="2" fill="#e05a48"/>
<rect x="1001" y="329" width="1" height="36" fill="#737375"/>
<rect x="999" y="355" width="5" height="4" fill="#5a0e05"/>
<rect x="1000" y="356" width="3" height="2" fill="#e05a48"/>
<rect x="1008" y="346" width="1" height="26" fill="#737375"/>
<rect x="1006" y="364" width="5" height="1" fill="#1d4f33"/>
<rect x="1015" y="336" width="1" height="68" fill="#737375"/>
<rect x="1013" y="355" width="5" height="9" fill="#1d4f33"/>
<rect x="1014" y="356" width="3" height="7" fill="#6aaa87"/>
<rect x="1023" y="330" width="1" height="67" fill="#737375"/>
<rect x="1021" y="351" width="5" height="43" fill="#5a0e05"/>
<rect x="1022" y="352" width="3" height="41" fill="#e05a48"/>
<rect x="1030" y="309" width="1" height="97" fill="#737375"/>
<rect x="1028" y="316" width="5" height="78" fill="#1d4f33"/>
<rect x="1029" y="317" width="3" height="76" fill="#6aaa87"/>
<rect x="1037" y="264" width="1" height="51" fill="#737375"/>
<rect x="1035" y="275" width="5" height="29" fill="#1d4f33"/>
<rect x="1036" y="276" width="3" height="27" fill="#6aaa87"/>
<rect x="1044" y="264" width="1" height="38" fill="#737375"/>
<rect x="1042" y="278" width="5" height="21" fill="#5a0e05"/>
<rect x="1043" y="279" width="3" height="19" fill="#e05a48"/>
<rect x="1052" y="300" width="1" height="18" fill="#737375"/>
<rect x="1050" y="302" width="5" height="8" fill="#5a0e05"/>
<rect x="1051" y="303" width="3" height="6" fill="#e05a48"/>
<rect x="1059" y="277" width="1" height="39" fill="#737375"/>
<rect x="1057" y="302" width="5" height="12" fill="#1d4f33"/>
<rect x="1058" y="303" width="3" height="10" fill="#6aaa87"/>
<rect x="1066" y="291" width="1" height="26" fill="#737375"/>
<rect x="1064" y="298" width="5" height="10" fill="#5a0e05"/>
<rect x="1065" y="299" width="3" height="8" fill="#e05a48"/>
<rect x="1074" y="291" width="1" height="32" fill="#737375"/>
<rect x="1072" y="304" width="5" height="13" fill="#1d4f33"/>
<rect x="1073" y="305" width="3" height="11" fill="#6aaa87"/>
<rect x="1081" y="233" width="1" height="109" fill="#737375"/>
<rect x="1079" y="240" width="5" height="64" fill="#1d4f33"/>
<rect x="1080" y="241" width="3" height="62" fill="#6aaa87"/>
<rect x="1088" y="232" width="1" height="27" fill="#737375"/>
<rect x="1086" y="240" width="5" height="15" fill="#5a0e05"/>
<rect x="1087" y="241" width="3" height="13" fill="#e05a48"/>
<rect x="1096" y="252" width="1" height="46" fill="#737375"/>
<rect x="1094" y="259" width="5" height="32" fill="#5a0e05"/>
<rect x="1095" y="260" width="3" height="30" fill="#e05a48"/>
<rect x="1103" y="256" width="1" height="43" fill="#737375"/>
<rect x="1101" y="283" width="5" height="6" fill="#5a0e05"/>
<rect x="1102" y="284" width="3" height="4" fill="#e05a48"/>
<rect x="1110" y="283" width="1" height="20" fill="#737375"/>
<rect x="1108" y="294" width="5" height="8" fill="#1d4f33"/>
<rect x="1109" y="295" width="3" height="6" fill="#6aaa87"/>
<rect x="1118" y="279" width="1" height="53" fill="#737375"/>
<rect x="1116" y="286" width="5" height="26" fill="#5a0e05"/>
<rect x="1117" y="287" width="3" height="24" fill="#e05a48"/>
<rect x="1125" y="296" width="1" height="23" fill="#737375"/>
<rect x="1123" y="310" width="5" height="5" fill="#5a0e05"/>
<rect x="1124" y="311" width="3" height="3" fill="#e05a48"/>
<rect x="1132" y="302" width="1" height="72" fill="#737375"/>
<rect x="1130" y="318" width="5" height="5" fill="#1d4f33"/>
<rect x="1131" y="319" width="3" height="3" fill="#6aaa87"/>
<rect x="1139" y="309" width="1" height="24" fill="#737375"/>
<rect x="1137" y="318" width="5" height="1" fill="#1d4f33"/>
<rect x="1147" y="313" width="1" height="25" fill="#737375"/>
<rect x="1145" y="315" width="5" height="19" fill="#5a0e05"/>
<rect x="1146" y="316" width="3" height="17" fill="#e05a48"/>
<rect x="1154" y="321" width="1" height="26" fill="#737375"/>
<rect x="1152" y="330" width="5" height="3" fill="#1d4f33"/>
<rect x="1153" y="331" width="3" height="1" fill="#6aaa87"/>
<rect x="1161" y="295" width="1" height="36" fill="#737375"/>
<rect x="1159" y="320" width="5" height="11" fill="#1d4f33"/>
<rect x="1160" y="321" width="3" height="9" fill="#6aaa87"/>
<rect x="1169" y="297" width="1" height="46" fill="#737375"/>
<rect x="1167" y="306" width="5" height="14" fill="#1d4f33"/>
<rect x="1168" y="307" width="3" height="12" fill="#6aaa87"/>
<rect x="1176" y="289" width="1" height="39" fill="#737375"/>
<rect x="1174" y="305" width="5" height="19" fill="#5a0e05"/>
<rect x="1175" y="306" width="3" height="17" fill="#e05a48"/>
<rect x="1183" y="318" width="1" height="19" fill="#737375"/>
<rect x="1181" y="330" width="5" height="3" fill="#1d4f33"/>
<rect x="1182" y="331" width="3" height="1" fill="#6aaa87"/>
<rect x="1191" y="319" width="1" height="32" fill="#737375"/>
<rect x="1189" y="328" width="5" height="7" fill="#5a0e05"/>
<rect x="1190" y="329" width="3" height="5" fill="#e05a48"/>
<rect x="1198" y="324" width="1" height="58" fill="#737375"/>
<rect x="1196" y="328" width="5" height="42" fill="#5a0e05"/>
<rect x="1197" y="329" width="3" height="40" fill="#e05a48"/>
<rect x="1205" y="368" width="1" height="47" fill="#737375"/>
<rect x="1203" y="374" width="5" height="40" fill="#5a0e05"/>
<rect x="1204" y="375" width="3" height="38" fill="#e05a48"/>
<rect x="1213" y="407" width="1" height="47" fill="#737375"/>
<rect x="1211" y="418" width="5" height="2" fill="#1d4f33"/>
<rect x="1220" y="404" width="1" height="25" fill="#737375"/>
<rect x="1218" y="412" width="5" height="14" fill="#1d4f33"/>
<rect x="1219" y="413" width="3" height="12" fill="#6aaa87"/>
<rect x="1227" y="383" width="1" height="39" fill="#737375"/>
<rect x="1225" y="404" width="5" height="12" fill="#1d4f33"/>
<rect x="1226" y="405" width="3" height="10" fill="#6aaa87"/>
<rect x="1235" y="397" width="1" height="30" fill="#737375"/>
<rect x="1233" y="406" width="5" height="10" fill="#5a0e05"/>
<rect x="1234" y="407" width="3" height="8" fill="#e05a48"/>
<rect x="1242" y="365" width="1" height="55" fill="#737375"/>
<rect x="1240" y="368" width="5" height="51" fill="#1d4f33"/>
<rect x="1241" y="369" width="3" height="49" fill="#6aaa87"/>
<rect x="1249" y="359" width="1" height="15" fill="#737375"/>
<rect x="1247" y="364" width="5" height="4" fill="#1d4f33"/>
<rect x="1248" y="365" width="3" height="2" fill="#6aaa87"/>
<rect x="1256" y="345" width="1" height="27" fill="#737375"/>
<rect x="1254" y="350" width="5" height="12" fill="#1d4f33"/>
<rect x="1255" y="351" width="3" height="10" fill="#6aaa87"/>
<rect x="1264" y="311" width="1" height="41" fill="#737375"/>
<rect x="1262" y="330" width="5" height="21" fill="#1d4f33"/>
<rect x="1263" y="331" width="3" height="19" fill="#6aaa87"/>
<rect x="1271" y="303" width="1" height="64" fill="#737375"/>
<rect x="1269" y="327" width="5" height="40" fill="#5a0e05"/>
<rect x="1270" y="328" width="3" height="38" fill="#e05a48"/>
<rect x="1278" y="309" width="1" height="75" fill="#737375"/>
<rect x="1276" y="314" width="5" height="65" fill="#1d4f33"/>
<rect x="1277" y="315" width="3" height="63" fill="#6aaa87"/>
<rect x="1286" y="270" width="1" height="50" fill="#737375"/>
<rect x="1284" y="278" width="5" height="38" fill="#1d4f33"/>
<rect x="1285" y="279" width="3" height="36" fill="#6aaa87"/>
<rect x="1293" y="273" width="1" height="28" fill="#737375"/>
<rect x="1291" y="278" width="5" height="19" fill="#5a0e05"/>
<rect x="1292" y="279" width="3" height="17" fill="#e05a48"/>
<rect x="1300" y="286" width="1" height="27" fill="#737375"/>
<rect x="1298" y="288" width="5" height="9" fill="#1d4f33"/>
<rect x="1299" y="289" width="3" height="7" fill="#6aaa87"/>
<rect x="1308" y="275" width="1" height="20" fill="#737375"/>
<rect x="1306" y="288" width="5" height="1" fill="#5a0e05"/>
<rect x="1315" y="252" width="1" height="35" fill="#737375"/>
<rect x="1313" y="267" width="5" height="12" fill="#1d4f33"/>
<rect x="1314" y="268" width="3" height="10" fill="#6aaa87"/>
<rect x="1322" y="224" width="1" height="56" fill="#737375"/>
<rect x="1320" y="233" width="5" height="42" fill="#1d4f33"/>
<rect x="1321" y="234" width="3" height="40" fill="#6aaa87"/>
<rect x="1330" y="221" width="1" height="35" fill="#737375"/>
<rect x="1328" y="229" width="5" height="20" fill="#5a0e05"/>
<rect x="1329" y="230" width="3" height="18" fill="#e05a48"/>
<rect x="1337" y="242" width="1" height="52" fill="#737375"/>
<rect x="1335" y="247" width="5" height="46" fill="#5a0e05"/>
<rect x="1336" y="248" width="3" height="44" fill="#e05a48"/>
<rect x="1344" y="289" width="1" height="29" fill="#737375"/>
<rect x="1342" y="292" width="5" height="1" fill="#1d4f33"/>
<rect x="1351" y="253" width="1" height="47" fill="#737375"/>
<rect x="1349" y="288" width="5" height="5" fill="#1d4f33"/>
<rect x="1350" y="289" width="3" height="3" fill="#6aaa87"/>
<rect x="1359" y="275" width="1" height="30" fill="#737375"/>
<rect x="1357" y="280" width="5" height="22" fill="#5a0e05"/>
<rect x="1358" y="281" width="3" height="20" fill="#e05a48"/>
<rect x="1366" y="295" width="1" height="28" fill="#737375"/>
<rect x="1364" y="302" width="5" height="3" fill="#1d4f33"/>
<rect x="1365" y="303" width="3" height="1" fill="#6aaa87"/>
<rect x="1373" y="204" width="1" height="107" fill="#737375"/>
<rect x="1371" y="212" width="5" height="93" fill="#1d4f33"/>
<rect x="1372" y="213" width="3" height="91" fill="#6aaa87"/>
<rect x="1381" y="184" width="1" height="42" fill="#737375"/>
<rect x="1379" y="204" width="5" height="8" fill="#1d4f33"/>
<rect x="1380" y="205" width="3" height="6" fill="#6aaa87"/>
<rect x="1388" y="172" width="1" height="37" fill="#737375"/>
<rect x="1386" y="172" width="5" height="34" fill="#1d4f33"/>
<rect x="1387" y="173" width="3" height="32" fill="#6aaa87"/>
</g>
<line x1="4" y1="172.5" x2="1465" y2="172.5" stroke="#5b9a76" stroke-width="1" stroke-dasharray="1 2" shape-rendering="crispEdges"/>
<path d="M4.0 699.9 L12.8 695.8 L33.2 697.4 L51.0 693.3 L71.5 695.8 L86.8 697.9 L94.4 694.8 L107.2 695.8 L122.5 697.9 L137.8 697.4 L158.2 699.1 L174.8 703.5 L188.9 701.7 L204.2 698.4 L210.6 702.5 L219.5 698.4 L232.3 696.1 L239.9 692.0 L247.6 696.6 L255.2 694.8 L276.9 700.9 L288.4 701.2 L298.6 702.5 L305.0 699.7 L316.5 704.2 L328.0 706.3 L334.4 704.8 L352.2 706.3 L363.7 707.6 L377.7 705.5 L386.4 704.2 L394.0 700.4 L401.7 701.2 L408.1 699.9 L415.7 700.4 L423.4 696.6 L437.4 697.4 L445.1 699.1 L452.2 694.8 L466.8 697.4 L474.4 698.4 L482.1 698.4 L489.0 697.4 L496.1 700.4 L503.8 698.4 L510.9 694.8 L525.5 699.1 L533.1 700.4 L540.0 699.9 L547.2 696.6 L554.8 697.4 L561.7 695.3 L568.9 689.4 L584.2 693.5 L591.8 695.8 L599.0 696.6 L612.8 701.7 L620.4 690.7 L635.2 692.8 L642.9 692.0 L656.9 694.5 L663.8 694.0 L671.0 696.6 L678.6 698.4 L685.8 700.9 L693.4 699.9 L701.1 700.4 L708.0 697.9 L722.0 697.9 L729.7 698.6 L737.3 700.9 L745.0 697.4 L751.9 695.3 L759.0 698.4 L766.9 698.4 L774.0 692.0 L780.9 687.7 L788.6 686.9 L795.7 691.0 L803.4 692.3 L810.5 694.5 L818.2 694.0 L825.1 695.8 L832.7 698.6 L839.9 697.9 L846.8 697.4 L854.4 699.9 L862.1 697.1 L869.0 696.6 L876.1 699.1 L883.8 693.3 L897.8 695.3 L905.5 698.4 L913.1 698.6 L920.0 699.9 L927.7 702.5 L934.8 699.9 L942.5 701.7 L949.6 703.0 L964.2 708.6 L971.3 706.0 L979.0 703.7 L992.8 703.5 L999.9 704.8 L1007.6 707.6 L1015.2 705.0 L1022.9 703.0 L1029.8 697.4 L1036.9 697.1 L1044.6 698.6 L1051.7 702.5 L1058.6 703.7 L1066.3 706.0 L1073.9 708.1 L1081.1 700.9 L1088.0 703.5 L1102.0 704.5 L1109.7 707.6 L1117.3 706.8 L1125.0 709.4 L1131.9 706.3 L1140.0 709.2 L1154.0 713.5 L1161.6 714.3 L1173.0 713.5 L1183.2 716.3 L1190.8 717.6 L1198.4 715.6 L1212.4 714.3 L1220.0 715.6 L1234.0 717.3 L1241.6 715.6 L1255.5 719.9 L1264.4 719.4 L1278.4 712.5 L1286.0 711.7 L1300.0 715.6 L1307.6 718.1 L1315.2 718.1 L1322.8 716.3 L1329.2 716.8 L1336.8 715.6 L1344.4 717.3 L1352.0 716.3 L1366.0 718.9 L1373.6 711.0 L1380.0 711.0 L1387.6 712.2" fill="none" stroke="#c0272d" stroke-width="1.15" stroke-linejoin="round" clip-path="url(#ca)" />
<rect x="4" y="744" width="1461" height="31" fill="#e8f3fd" shape-rendering="crispEdges"/>
<g shape-rendering="crispEdges" fill="#dbe4ee">
<rect x="72" y="744" width="1" height="31"/>
<rect x="153" y="744" width="1" height="31"/>
<rect x="240" y="744" width="1" height="31"/>
<rect x="394" y="744" width="1" height="31"/>
<rect x="474" y="744" width="1" height="31"/>
<rect x="555" y="744" width="1" height="31"/>
<rect x="635" y="744" width="1" height="31"/>
<rect x="716" y="744" width="1" height="31"/>
<rect x="862" y="744" width="1" height="31"/>
<rect x="942" y="744" width="1" height="31"/>
<rect x="1023" y="744" width="1" height="31"/>
<rect x="1176" y="744" width="1" height="31"/>
<rect x="1322" y="744" width="1" height="31"/>
<rect x="1432" y="744" width="1" height="31"/>
</g>
<rect x="4" y="759" width="1461" height="1" fill="#d9e0e8" shape-rendering="crispEdges"/>
<line x1="4" y1="744.5" x2="1465" y2="744.5" stroke="#5f6168" stroke-width="1" stroke-dasharray="5 6" shape-rendering="crispEdges"/>
<line x1="4" y1="759.5" x2="1465" y2="759.5" stroke="#a3a6ad" stroke-width="1" stroke-dasharray="5 6" shape-rendering="crispEdges"/>
<line x1="4" y1="775.5" x2="1465" y2="775.5" stroke="#5f6168" stroke-width="1" stroke-dasharray="5 6" shape-rendering="crispEdges"/>
<path d="M4.0 776.5 L15.3 768.1 L25.5 763.0 L35.7 761.2 L42.1 763.5 L57.4 755.3 L65.1 753.5 L74.0 745.1 L81.7 741.8 L88.1 741.3 L97.0 745.8 L107.2 742.5 L114.9 744.3 L122.5 746.4 L132.7 740.0 L145.5 737.4 L163.4 738.7 L174.8 742.5 L188.9 742.0 L204.2 736.2 L211.8 740.0 L225.9 756.1 L233.5 752.7 L239.9 742.5 L247.6 740.0 L255.2 731.0 L269.3 730.5 L276.9 735.6 L284.6 744.3 L293.5 745.8 L298.6 745.1 L306.3 739.5 L312.7 739.5 L328.0 746.4 L334.4 745.8 L343.3 740.7 L350.9 740.5 L357.3 737.4 L365.0 734.9 L371.9 727.7 L380.0 736.5 L386.9 743.3 L394.0 734.4 L400.9 732.3 L408.1 739.2 L415.7 746.4 L422.6 749.7 L429.8 752.7 L437.4 758.6 L445.1 763.0 L452.2 754.0 L459.6 747.1 L466.8 753.5 L473.9 757.1 L481.6 753.5 L489.0 758.6 L496.1 763.0 L503.8 780.3 L510.9 773.2 L517.8 754.0 L525.5 744.3 L533.1 751.0 L540.0 761.2 L547.2 749.4 L554.8 734.9 L568.9 793.6 L576.5 794.1 L584.2 778.8 L591.8 775.2 L599.0 769.8 L605.9 765.5 L612.8 768.6 L620.4 791.0 L627.6 791.5 L635.2 785.4 L642.1 784.6 L649.8 785.9 L656.9 782.6 L664.6 775.7 L673.5 775.0 L686.3 775.7 L693.9 778.0 L701.1 777.8 L708.0 771.1 L715.6 769.3 L722.0 766.8 L729.7 762.2 L737.3 757.3 L745.0 762.4 L751.9 756.6 L759.0 748.1 L766.9 755.3 L774.0 771.9 L780.9 797.4 L788.6 787.2 L795.7 779.0 L802.6 780.8 L810.5 775.7 L818.2 779.5 L825.1 781.1 L832.7 779.8 L839.9 782.1 L846.8 779.0 L854.4 774.4 L869.0 761.2 L876.1 760.4 L883.8 757.8 L890.9 759.4 L897.8 755.8 L913.1 751.5 L920.0 751.0 L927.7 748.1 L934.8 734.1 L941.7 730.8 L964.2 741.3 L971.1 740.0 L979.0 746.9 L985.9 744.3 L993.5 745.6 L1000.4 744.6 L1007.6 748.1 L1022.9 752.7 L1030.5 744.3 L1037.4 728.0 L1044.6 730.5 L1052.2 738.2 L1058.6 736.2 L1066.3 741.3 L1073.9 744.3 L1081.1 736.7 L1088.0 734.1 L1095.6 745.1 L1102.8 747.1 L1117.3 755.3 L1125.0 757.3 L1131.9 765.5 L1140.3 762.4 L1154.0 769.4 L1161.6 763.0 L1169.2 765.6 L1176.8 766.3 L1183.2 772.7 L1190.8 776.5 L1205.5 798.6 L1212.9 798.8 L1220.0 788.4 L1227.6 780.8 L1235.2 779.0 L1241.6 770.1 L1249.2 763.0 L1256.8 760.0 L1263.9 751.9 L1270.8 755.4 L1278.4 752.4 L1286.0 738.4 L1300.0 742.7 L1307.6 740.9 L1321.6 734.6 L1329.2 737.1 L1336.8 745.5 L1344.4 752.4 L1351.3 748.6 L1366.0 756.2 L1373.6 741.7 L1380.7 731.5 L1387.6 728.8" fill="none" stroke="#2962ff" stroke-width="1.15" stroke-linejoin="round" clip-path="url(#cc)" />
<g shape-rendering="crispEdges" fill="#e0e3eb">
<rect x="4" y="684" width="1521" height="1"/>
<rect x="4" y="723" width="1521" height="1"/>
</g>
<rect x="8" y="35" width="175" height="28" fill="rgba(255,255,255,0.55)"/>
<rect x="8" y="63" width="560" height="24" fill="rgba(255,255,255,0.55)"/>
<rect x="8" y="693" width="118" height="18" fill="rgba(255,255,255,0.55)"/>
<rect x="8" y="732" width="160" height="19" fill="rgba(255,255,255,0.55)"/>
<circle cx="22" cy="18.8" r="9.1" fill="#0b8a72"/>
<text x="22" y="23.3" font-size="13" fill="#fff" font-weight="bold" text-anchor="middle" >$</text>
<text x="35.5" y="25.0" font-size="15.8" fill="#4a4d55" textLength="248.5" lengthAdjust="spacingAndGlyphs" >US Dollar Index · 1D · PEPPERSTONE</text>
<circle cx="308.9" cy="19.1" r="8.2" fill="#d3eee8"/><circle cx="308.9" cy="19.1" r="4" fill="#089981"/>
<text x="335" y="23.9" font-size="12.5" fill="#57585e" textLength="8" lengthAdjust="spacingAndGlyphs" >O</text>
<text x="343.8" y="23.9" font-size="12.5" fill="#2b6e4c" textLength="45.3" lengthAdjust="spacingAndGlyphs" >105.330</text>
<text x="396.3" y="23.9" font-size="12.5" fill="#57585e" textLength="8" lengthAdjust="spacingAndGlyphs" >H</text>
<text x="405.6" y="23.9" font-size="12.5" fill="#2b6e4c" textLength="44.6" lengthAdjust="spacingAndGlyphs" >105.735</text>
<text x="457.3" y="23.9" font-size="12.5" fill="#57585e" textLength="6" lengthAdjust="spacingAndGlyphs" >L</text>
<text x="464.6" y="23.9" font-size="12.5" fill="#2b6e4c" textLength="45.1" lengthAdjust="spacingAndGlyphs" >105.290</text>
<text x="516.4" y="23.9" font-size="12.5" fill="#57585e" textLength="8" lengthAdjust="spacingAndGlyphs" >C</text>
<text x="525.2" y="23.9" font-size="12.5" fill="#2b6e4c" textLength="44.8" lengthAdjust="spacingAndGlyphs" >105.730</text>
<text x="577.4" y="23.9" font-size="12.5" fill="#2b6e4c" textLength="37.4" lengthAdjust="spacingAndGlyphs" >+0.386</text>
<text x="620.8" y="23.9" font-size="12.5" fill="#2b6e4c" textLength="47.6" lengthAdjust="spacingAndGlyphs" >(+0.37%)</text>
<rect x="12.5" y="35.5" width="61" height="23" rx="4" fill="#fff" stroke="#f23645" stroke-width="1"/>
<text x="20.7" y="52" font-size="12.3" fill="#f23645" textLength="44.4" lengthAdjust="spacingAndGlyphs" >105.735</text>
<text x="81.8" y="51.5" font-size="11" fill="#131722" textLength="26.8" lengthAdjust="spacingAndGlyphs" >0.050</text>
<rect x="117.5" y="35.5" width="61" height="23" rx="4" fill="#fff" stroke="#2962ff" stroke-width="1"/>
<text x="125.7" y="52" font-size="12.3" fill="#2962ff" textLength="44.4" lengthAdjust="spacingAndGlyphs" >105.785</text>
<text x="13" y="79" font-size="11.6" fill="#57585e" textLength="383" lengthAdjust="spacingAndGlyphs" >MA Ribbon SMA close 20 SMA close 50 SMA close 100 SMA close 200</text>
<text x="404.7" y="79" font-size="12" fill="#f23645" textLength="45" lengthAdjust="spacingAndGlyphs" >104.387</text>
<text x="457" y="79" font-size="12" fill="#2962ff" textLength="44.5" lengthAdjust="spacingAndGlyphs" >104.078</text>
<text x="509.4" y="79" font-size="12" fill="#131722" textLength="9" lengthAdjust="spacingAndGlyphs" >∅</text>
<text x="522.5" y="79" font-size="12" fill="#131722" textLength="43.7" lengthAdjust="spacingAndGlyphs" >103.861</text>
<rect x="13.5" y="89.5" width="28" height="20" rx="3" fill="rgba(255,255,255,0.92)" stroke="#e0e3eb" stroke-width="1"/>
<polyline points="23.5,102 27.5,97.5 31.5,102" fill="none" stroke="#131722" stroke-width="1.4"/>
<text x="13" y="705.8" font-size="12" fill="#57585e" textLength="67.7" lengthAdjust="spacingAndGlyphs" >ATR 14 RMA</text>
<text x="88.9" y="705.8" font-size="12" fill="#c0272d" textLength="31.3" lengthAdjust="spacingAndGlyphs" >0.519</text>
<text x="13" y="744.5" font-size="12" fill="#57585e" textLength="101.3" lengthAdjust="spacingAndGlyphs" >CCI 20 hlc3 SMA 5</text>
<text x="123.7" y="744.5" font-size="12" fill="#2962ff" textLength="37.1" lengthAdjust="spacingAndGlyphs" >193.47</text>
<rect x="13" y="772.5" width="36" height="19.5" fill="#fff"/>
<g fill="#131722"><path d="M16 774.5 H29 V790 H22 V781 H16 Z"/><circle cx="33" cy="777.8" r="2.8"/><path d="M39 774.5 H46 L39.5 790 H32.5 Z"/></g>
<g shape-rendering="crispEdges" fill="#4a4a4a"><rect x="1465" y="3" width="1" height="829"/><rect x="4" y="804" width="1521" height="1"/></g>
<g transform="translate(1277,790) skewX(-14)" opacity="0.85"><text class="wm" x="0" y="0" font-size="56" fill="#ffffff" textLength="238" lengthAdjust="spacingAndGlyphs" style="filter:drop-shadow(2px 2px 1px rgba(40,40,40,0.8))">海马财经</text></g>
<text x="1474" y="69.9" font-size="11.5" fill="#57585e" textLength="41" lengthAdjust="spacingAndGlyphs" >107.000</text>
<text x="1474" y="111.6" font-size="11.5" fill="#57585e" textLength="41" lengthAdjust="spacingAndGlyphs" >106.500</text>
<text x="1474" y="153.2" font-size="11.5" fill="#57585e" textLength="41" lengthAdjust="spacingAndGlyphs" >106.000</text>
<text x="1474" y="194.8" font-size="11.5" fill="#57585e" textLength="41" lengthAdjust="spacingAndGlyphs" >105.500</text>
<text x="1474" y="236.5" font-size="11.5" fill="#57585e" textLength="41" lengthAdjust="spacingAndGlyphs" >105.000</text>
<text x="1474" y="278.1" font-size="11.5" fill="#57585e" textLength="41" lengthAdjust="spacingAndGlyphs" >104.500</text>
<text x="1474" y="319.8" font-size="11.5" fill="#57585e" textLength="41" lengthAdjust="spacingAndGlyphs" >104.000</text>
<text x="1474" y="361.4" font-size="11.5" fill="#57585e" textLength="41" lengthAdjust="spacingAndGlyphs" >103.500</text>
<text x="1474" y="403.1" font-size="11.5" fill="#57585e" textLength="41" lengthAdjust="spacingAndGlyphs" >103.000</text>
<text x="1474" y="444.7" font-size="11.5" fill="#57585e" textLength="41" lengthAdjust="spacingAndGlyphs" >102.500</text>
<text x="1474" y="486.4" font-size="11.5" fill="#57585e" textLength="41" lengthAdjust="spacingAndGlyphs" >102.000</text>
<text x="1474" y="528.0" font-size="11.5" fill="#57585e" textLength="41" lengthAdjust="spacingAndGlyphs" >101.500</text>
<text x="1474" y="569.7" font-size="11.5" fill="#57585e" textLength="41" lengthAdjust="spacingAndGlyphs" >101.000</text>
<text x="1474" y="611.3" font-size="11.5" fill="#57585e" textLength="41" lengthAdjust="spacingAndGlyphs" >100.500</text>
<text x="1474" y="653.0" font-size="11.5" fill="#57585e" textLength="41" lengthAdjust="spacingAndGlyphs" >100.000</text>
<text x="1474" y="717.8" font-size="11.5" fill="#57585e" textLength="29.3" lengthAdjust="spacingAndGlyphs" >0.500</text>
<text x="1474" y="731.2" font-size="11.5" fill="#57585e" textLength="35" lengthAdjust="spacingAndGlyphs" >200.00</text>
<text x="1474" y="763.5" font-size="11.5" fill="#8c8e95" textLength="22.5" lengthAdjust="spacingAndGlyphs" >0.00</text>
<text x="1473.3" y="794.0" font-size="11.5" fill="#57585e" textLength="42" lengthAdjust="spacingAndGlyphs" >−200.00</text>
<rect x="1466" y="3" width="59" height="34" fill="#fff"/>
<g clip-path="url(#cr)"><path d="M1466 28.3 H1519 a2 2 0 0 1 2 2 V42.7 a2 2 0 0 1 -2 2 H1466 Z" fill="#000"/>
<text x="1474" y="40.0" font-size="11.5" fill="#fff" textLength="41" lengthAdjust="spacingAndGlyphs" font-weight="bold" >107.382</text>
</g>
<g><path d="M1466 72.1 H1519 a2 2 0 0 1 2 2 V86.5 a2 2 0 0 1 -2 2 H1466 Z" fill="#000"/>
<text x="1474" y="83.8" font-size="11.5" fill="#fff" textLength="41" lengthAdjust="spacingAndGlyphs" font-weight="bold" >106.837</text>
</g>
<g><path d="M1466 179.8 H1519 a2 2 0 0 1 2 2 V194.20000000000002 a2 2 0 0 1 -2 2 H1466 Z" fill="#000"/>
<text x="1474" y="191.5" font-size="11.5" fill="#fff" textLength="41" lengthAdjust="spacingAndGlyphs" font-weight="bold" >105.484</text>
</g>
<g><path d="M1466 196.4 H1519 a2 2 0 0 1 2 2 V210.8 a2 2 0 0 1 -2 2 H1466 Z" fill="#000"/>
<text x="1474" y="208.1" font-size="11.5" fill="#fff" textLength="41" lengthAdjust="spacingAndGlyphs" font-weight="bold" >105.349</text>
</g>
<g><path d="M1466 254.10000000000002 H1519 a2 2 0 0 1 2 2 V268.5 a2 2 0 0 1 -2 2 H1466 Z" fill="#000"/>
<text x="1474" y="265.8" font-size="11.5" fill="#fff" textLength="41" lengthAdjust="spacingAndGlyphs" font-weight="bold" >104.658</text>
</g>
<g><path d="M1466 668.0 H1512 a2 2 0 0 1 2 2 V682.4 a2 2 0 0 1 -2 2 H1466 Z" fill="#000"/>
<text x="1474" y="679.7" font-size="11.5" fill="#fff" textLength="35" lengthAdjust="spacingAndGlyphs" font-weight="bold" >99.495</text>
</g>
<rect x="1465" y="3" width="1" height="40" fill="#4a4a4a" shape-rendering="crispEdges"/>
<rect x="1469.5" y="7.5" width="51" height="25" rx="4" fill="#fff" stroke="#e0e3eb" stroke-width="1"/>
<text x="1473.2" y="24.2" font-size="12" fill="#131722" textLength="20.4" lengthAdjust="spacingAndGlyphs" >USD</text>
<polyline points="1511.2,19.2 1513.6,21.6 1516,19.2" fill="none" stroke="#131722" stroke-width="1.2"/>
<text x="1295" y="829" font-size="35" font-weight="bold" font-style="italic" fill="#8fabe9" textLength="221" lengthAdjust="spacing" style="filter:drop-shadow(1px 1px 0.5px rgba(90,110,170,0.7))">zzrt01.cn</text>
<text x="72.5" y="821.6" font-size="11.6" fill="#4a4d55" text-anchor="middle" >Aug</text>
<text x="153.5" y="821.6" font-size="11.6" fill="#4a4d55" text-anchor="middle" >16</text>
<text x="240.5" y="821.6" font-size="11.6" fill="#4a4d55" text-anchor="middle" >Sep</text>
<text x="394.5" y="821.6" font-size="11.6" fill="#4a4d55" text-anchor="middle" >Oct</text>
<text x="474.5" y="821.6" font-size="11.6" fill="#4a4d55" text-anchor="middle" >17</text>
<text x="555.5" y="821.6" font-size="11.6" fill="#4a4d55" text-anchor="middle" >Nov</text>
<text x="635.5" y="821.6" font-size="11.6" fill="#4a4d55" text-anchor="middle" >16</text>
<text x="716.5" y="821.6" font-size="11.6" fill="#4a4d55" text-anchor="middle" >Dec</text>
<text x="862.5" y="821.6" font-size="11.6" fill="#131722" font-weight="bold" text-anchor="middle" >2024</text>
<text x="942.5" y="821.6" font-size="11.6" fill="#4a4d55" text-anchor="middle" >17</text>
<text x="1023.5" y="821.6" font-size="11.6" fill="#4a4d55" text-anchor="middle" >Feb</text>
<text x="1176.5" y="821.6" font-size="11.6" fill="#4a4d55" text-anchor="middle" >Mar</text>
<text x="1322.5" y="821.6" font-size="11.6" fill="#4a4d55" text-anchor="middle" >Apr</text>
<text x="1432.5" y="821.6" font-size="11.6" fill="#4a4d55" text-anchor="middle" >22</text>
<path d="M1489.5 818 L1493.2 811.5 H1500.8 L1504.5 818 L1500.8 824.5 H1493.2 Z" fill="none" stroke="#131722" stroke-width="1.1"/><circle cx="1497" cy="818" r="1.9" fill="none" stroke="#131722" stroke-width="1.1"/>
</svg>
</body></html>
